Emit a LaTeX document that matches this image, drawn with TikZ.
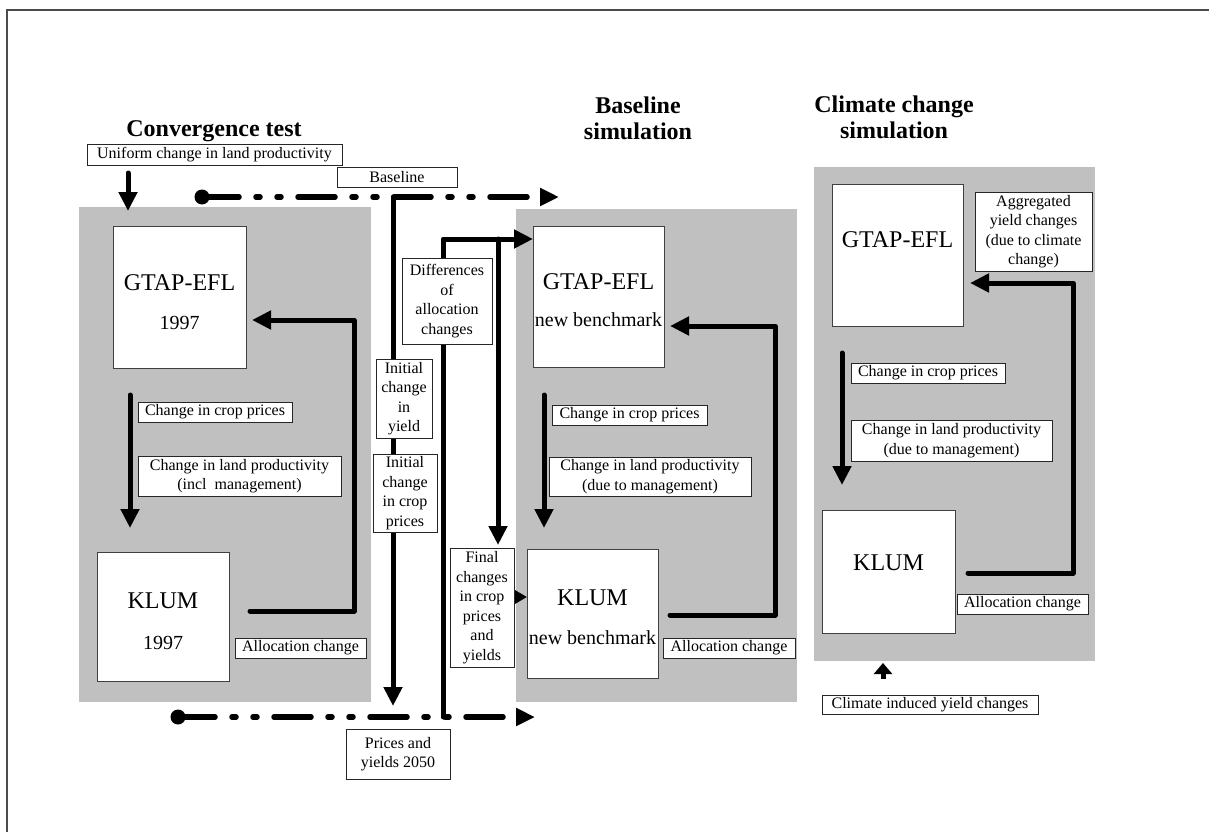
\documentclass[tikz,border=0pt]{standalone}
\usepackage{fontspec}
\setmainfont{Liberation Serif}
\usetikzlibrary{arrows.meta}
\definecolor{panelgray}{RGB}{192,192,192}
\begin{document}
\begin{tikzpicture}[x=1pt,y=-1pt,
 panel/.style={fill=panelgray,draw=none,inner sep=0pt,outer sep=0pt},
 model/.style={draw=black!75,fill=white,line width=1pt,inner sep=0pt,outer sep=0pt},
 lbl/.style={draw=black!85,fill=white,line width=0.8pt,inner sep=0pt,outer sep=0pt,align=center,font=\fontsize{16}{19.5}\selectfont},
 big/.style={font=\fontsize{24}{26}\selectfont,inner sep=0pt},
 sub/.style={font=\fontsize{20}{22}\selectfont,inner sep=0pt},
 ttl/.style={font=\fontsize{24}{26}\selectfont\bfseries,inner sep=0pt,align=center},
 arr/.style={line width=5pt,line cap=round,line join=round,-{Triangle[length=19pt,width=18pt]}},
 sarr/.style={line width=3pt,-{Triangle[length=12pt,width=13pt]}},
 uarr/.style={line width=5pt,-{Triangle[length=11pt,width=18pt]}},
 dd/.style={line width=5.5pt,line cap=round,dash pattern=on 37pt off 17pt on 4pt off 17pt on 4pt off 17pt,-{Triangle[length=19pt,width=17pt]}},
 dot/.style={circle,fill=black,inner sep=0pt,minimum size=15pt}
]
\useasboundingbox (0,0) rectangle (1209,832);
% frame
\draw[black!70,line width=1.5pt] (7,832) -- (7,10) -- (1209,10);

% titles
\node[ttl] (t1) at (214,131) {Convergence test};
\node[ttl] (t2) at (638,118) {Baseline\\simulation};
\node[ttl] (t3) at (894,117.5) {Climate change\\simulation};

% panels
\node[panel,minimum width=292pt,minimum height=495pt] (p1) at (225,454.5) {};
\node[panel,minimum width=281pt,minimum height=493pt] (p2) at (656.5,455.5) {};
\node[panel,minimum width=281pt,minimum height=494pt] (p3) at (954.5,414) {};

% model boxes
\node[model,minimum width=133pt,minimum height=142pt] (g1) at (179.5,297) {};
\node[big] (g1a) at (179.5,283) {GTAP-EFL};
\node[sub] (g1b) at (179.5,323) {1997};
\node[model,minimum width=132pt,minimum height=129pt] (k1) at (163,616.5) {};
\node[big] (k1a) at (163,601) {KLUM};
\node[sub] (k1b) at (163,643) {1997};

\node[model,minimum width=131pt,minimum height=141pt] (g2) at (598.5,296.5) {};
\node[big] (g2a) at (598.5,282) {GTAP-EFL};
\node[sub] (g2b) at (598.5,320) {new benchmark};
\node[model,minimum width=131pt,minimum height=129pt] (k2) at (592.5,613.5) {};
\node[big] (k2a) at (592.5,598) {KLUM};
\node[sub] (k2b) at (592.5,638) {new benchmark};

\node[model,minimum width=131pt,minimum height=142pt] (g3) at (897.5,255) {};
\node[big] (g3a) at (897.5,240) {GTAP-EFL};
\node[model,minimum width=133pt,minimum height=123pt] (k3) at (888.5,571.5) {};
\node[big] (k3a) at (888.5,563) {KLUM};

% coordinates for connector ends
\coordinate (ua) at (128,173); \coordinate (ub) at (128,211);
\coordinate (l1a) at (250,611); \coordinate (l1b) at (354,611); \coordinate (l1c) at (354,320); \coordinate (l1d) at (252,320);
\coordinate (d1a) at (130,395); \coordinate (d1b) at (130,528);
\coordinate (l2a) at (670,615); \coordinate (l2b) at (775,615); \coordinate (l2c) at (775,326); \coordinate (l2d) at (670,326);
\coordinate (d2a) at (544,395); \coordinate (d2b) at (544,528);
\coordinate (l3a) at (968,573); \coordinate (l3b) at (1073,573); \coordinate (l3c) at (1073,283); \coordinate (l3d) at (970,283);
\coordinate (d3a) at (842,353); \coordinate (d3b) at (842,485);
\coordinate (ca) at (883,679); \coordinate (cb) at (883,663);
\coordinate (topend) at (559,197);
\coordinate (botend) at (535,717);
\coordinate (va) at (393,197); \coordinate (vb) at (393,706);
\coordinate (wa) at (443,717); \coordinate (wb) at (443,239); \coordinate (wc) at (533,239);
\coordinate (xa) at (498,239); \coordinate (xb) at (498,545);
\coordinate (fa) at (514,597); \coordinate (fb) at (527,597);

% dash-dot lines
\node[dot] (c1) at (202,197) {};
\node[dot] (c2) at (178,717) {};
\draw[dd] (c1.center) -- (topend);
\draw[dd] (c2.center) -- (botend);

% solid connectors
\draw[arr] (ua) -- (ub);
\draw[arr] (l1a) -- (l1b) -- (l1c) -- (l1d);
\draw[arr] (d1a) -- (d1b);
\draw[arr] (l2a) -- (l2b) -- (l2c) -- (l2d);
\draw[arr] (d2a) -- (d2b);
\draw[arr] (l3a) -- (l3b) -- (l3c) -- (l3d);
\draw[arr] (d3a) -- (d3b);
\draw[uarr] (ca) -- (cb);
\draw[arr] (va) -- (vb);
\draw[arr] (wa) -- (wb) -- (wc);
\draw[arr] (xa) -- (xb);
\draw[sarr] (fa) -- (fb);

% label boxes
\node[lbl,minimum width=255pt,minimum height=21pt] (uni) at (214.5,154.5) {Uniform change in land productivity};
\node[lbl,minimum width=120pt,minimum height=20pt] (base) at (397,177) {Baseline};
\node[lbl,minimum width=154pt,minimum height=20pt] (cp1) at (215,412) {Change in crop prices};
\node[lbl,minimum width=203pt,minimum height=40pt] (lp1) at (239.5,476) {Change in land productivity\\(incl~ management)};
\node[lbl,minimum width=131pt,minimum height=20pt] (al1) at (300.5,648) {Allocation change};
\node[lbl,minimum width=90pt,minimum height=86pt] (diff) at (447,301) {Differences\\of\\allocation\\changes};
\node[lbl,minimum width=56pt,minimum height=79pt] (iy) at (404,398.5) {Initial\\change\\in\\yield};
\node[lbl,minimum width=64pt,minimum height=78pt] (icp) at (405,493) {Initial\\change\\in crop\\prices};
\node[lbl,minimum width=64pt,minimum height=119pt] (fin) at (482,607.5) {Final\\changes\\in crop\\prices\\and\\yields};
\node[lbl,minimum width=104pt,minimum height=50pt] (pr) at (398,754) {Prices and\\yields 2050};
\node[lbl,minimum width=155pt,minimum height=20pt] (cp2) at (629.5,415) {Change in crop prices};
\node[lbl,minimum width=202pt,minimum height=39pt] (lp2) at (650,476.5) {Change in land productivity\\(due to management)};
\node[lbl,minimum width=132pt,minimum height=20pt] (al2) at (729,648) {Allocation change};
\node[lbl,minimum width=117pt,minimum height=79pt] (agg) at (1033.5,231.5) {Aggregated\\yield changes\\(due to climate\\change)};
\node[lbl,minimum width=154pt,minimum height=20pt] (cp3) at (928,373) {Change in crop prices};
\node[lbl,minimum width=201pt,minimum height=41pt] (lp3) at (951.5,440.5) {Change in land productivity\\(due to management)};
\node[lbl,minimum width=131pt,minimum height=20pt] (al3) at (1022.5,604) {Allocation change};
\node[lbl,minimum width=216pt,minimum height=19pt] (clim) at (930,704.5) {Climate induced yield changes};
\end{tikzpicture}
\end{document}
